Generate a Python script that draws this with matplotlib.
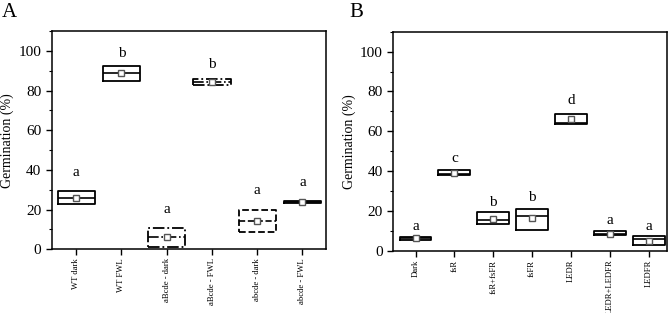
import matplotlib
matplotlib.use("Agg")
import matplotlib.pyplot as plt
from matplotlib.ticker import MultipleLocator

plt.rcParams['font.family'] = ['Liberation Serif', 'DejaVu Serif']

# Panel A data
cats_a = ['WT dark', 'WT FWL', 'aBcde - dark', 'aBcde - FWL', 'abcde - dark', 'abcde - FWL']
q1_a = [22.7, 85.0, 1.0, 83.0, 8.5, 23.4]
q3_a = [29.3, 92.3, 10.9, 85.6, 19.7, 24.2]
med_a = [26.1, 89.0, 6.2, 84.4, 14.4, 23.7]
mean_a = [26.0, 88.8, 6.2, 84.4, 14.4, 23.6]
letters_a = ['a', 'b', 'a', 'b', 'a', 'a']
letter_y_a = [38.6, 98.8, 20.0, 93.3, 29.4, 33.8]
styles_a = ['-', '-', '-.', '-.', '--', '-']

# Panel B data
cats_b = ['Dark', 'fsR', 'fsR+fsFR', 'fsFR', 'LEDR', 'LEDR+LEDFR', 'LEDFR']
q1_b = [5.3, 38.2, 13.2, 10.4, 63.8, 7.7, 3.0]
q3_b = [7.0, 40.6, 19.2, 21.2, 68.6, 10.0, 7.2]
med_b = [6.3, 38.7, 15.5, 17.5, 64.3, 8.5, 5.8]
mean_b = [6.3, 39.0, 16.0, 16.4, 66.0, 8.5, 5.0]
letters_b = ['a', 'c', 'b', 'b', 'd', 'a', 'a']
letter_y_b = [12.4, 46.4, 24.0, 26.7, 75.3, 15.0, 12.4]
styles_b = ['-'] * 7

fig = plt.figure(figsize=(6.69, 3.13), dpi=100)
axA = fig.add_axes([0.0773, 0.2035, 0.410, 0.6975])
axB = fig.add_axes([0.5874, 0.1990, 0.4096, 0.6995])


def draw(ax, cats, q1, q3, med, mean, letters, ly, styles, xlim):
    stats = []
    for i in range(len(cats)):
        stats.append(dict(med=med[i], q1=q1[i], q3=q3[i], whislo=q1[i],
                          whishi=q3[i], mean=mean[i], label=cats[i]))
    pos = list(range(len(cats)))
    res = ax.bxp(stats, positions=pos, widths=0.82, showcaps=False,
                 showfliers=False, showmeans=True, patch_artist=False,
                 boxprops=dict(color='black', linewidth=1.3),
                 medianprops=dict(color='black', linewidth=1.2),
                 whiskerprops=dict(linewidth=0),
                 meanprops=dict(marker='s', markersize=5, markerfacecolor='white',
                                markeredgecolor='#555555', markeredgewidth=1.0))
    for i, st in enumerate(styles):
        res['boxes'][i].set_linestyle(st)
        res['medians'][i].set_linestyle(st)
    for i, (l, y) in enumerate(zip(letters, ly)):
        ax.text(i, y, l, ha='center', va='center', fontsize=11)
    ax.set_xlim(*xlim)
    ax.set_ylim(0, 110)
    ax.set_xticks(pos)
    ax.set_xticklabels(cats, rotation=90, fontsize=6.2)
    ax.yaxis.set_major_locator(MultipleLocator(20))
    ax.yaxis.set_minor_locator(MultipleLocator(10))
    ax.tick_params(axis='y', which='major', labelsize=11, length=4, width=1)
    ax.tick_params(axis='y', which='minor', length=2, width=0.8)
    ax.tick_params(axis='x', which='major', length=4, width=1, pad=2.5)
    ax.set_ylabel('Germination (%)', fontsize=10, labelpad=3)
    for s in ax.spines.values():
        s.set_linewidth(1.1)


draw(axA, cats_a, q1_a, q3_a, med_a, mean_a, letters_a, letter_y_a, styles_a, (-0.54, 5.52))
draw(axB, cats_b, q1_b, q3_b, med_b, mean_b, letters_b, letter_y_b, styles_b, (-0.58, 6.47))

fig.text(0.003, 0.99, 'A', fontsize=15, ha='left', va='top')
fig.text(0.522, 0.99, 'B', fontsize=15, ha='left', va='top')

fig.savefig('out.png', dpi=100)
